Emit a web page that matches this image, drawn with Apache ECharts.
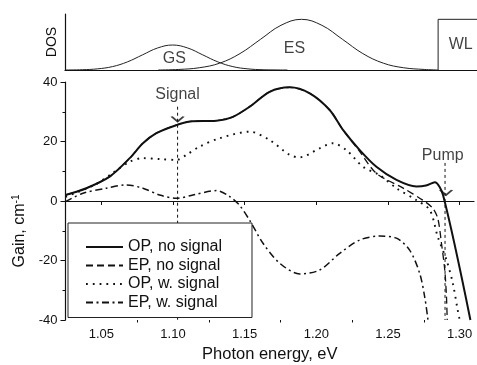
<!DOCTYPE html>
<html>
<head>
<meta charset="utf-8">
<script src="https://cdn.jsdelivr.net/npm/echarts@6/dist/echarts.min.js"></script>
<style>
  html, body { margin: 0; padding: 0; background: #fff; }
  #main { width: 477px; height: 365px; }
</style>
</head>
<body>
<div id="main"></div>
<script>
// DOS panel (arbitrary units, 0..1)
const gsDos = [[1.025, 0], [1.037, 0.005], [1.0475, 0.02], [1.058, 0.06], [1.0685, 0.145], [1.079, 0.27],
  [1.0895, 0.393], [1.100, 0.446], [1.1105, 0.393], [1.121, 0.27], [1.1315, 0.145], [1.142, 0.06],
  [1.1525, 0.02], [1.163, 0.005], [1.18, 0]];
const esDos = [[1.09, 0], [1.1043, 0.01], [1.1185, 0.04], [1.1328, 0.122], [1.147, 0.294], [1.1613, 0.549],
  [1.1755, 0.798], [1.1898, 0.905], [1.204, 0.798], [1.2183, 0.549], [1.2325, 0.294], [1.2468, 0.122],
  [1.261, 0.04], [1.2753, 0.01], [1.285, 0]];
const wlDos = [[1.285, 0], [1.285, 0.905], [1.3121, 0.905]];
const dosLabels = [['GS', 1.1012, 0.196], ['ES', 1.1849, 0.375], ['WL', 1.3007, 0.446]];

// gain spectra, cm^-1 vs photon energy, eV
const seriesNames = ['OP, no signal', 'EP, no signal', 'OP, w. signal', 'EP, w. signal'];
const opNoSignal = [[1.025, 2.0], [1.0395, 4.3], [1.0558, 8.2], [1.0698, 14.4], [1.079, 19.4], [1.0884, 22.8],
  [1.1023, 25.5], [1.1116, 26.7], [1.1303, 27.0], [1.1418, 28.3], [1.1535, 31.7], [1.1674, 36.7],
  [1.1814, 38.2], [1.1954, 36.2], [1.2093, 30.6], [1.2186, 23.9], [1.2303, 17.1], [1.2419, 11.5],
  [1.2559, 7.1], [1.2698, 4.9], [1.2765, 5.2], [1.2826, 6.3], [1.2884, 2.0], [1.3075, -40]];
const epNoSignal = [[1.025, 2.0], [1.0395, 4.3], [1.0558, 8.2], [1.0698, 14.4], [1.079, 19.4], [1.0884, 22.8],
  [1.1023, 25.5], [1.1116, 26.7], [1.1303, 27.0], [1.1418, 28.3], [1.1535, 31.7], [1.1674, 36.7],
  [1.1814, 38.2], [1.1954, 36.2], [1.2093, 30.6], [1.2186, 23.9], [1.2303, 16.6], [1.2419, 9.3],
  [1.2603, 4.4], [1.2742, 0.3], [1.2812, -2.4], [1.2848, -6.0], [1.2873, -14.2], [1.2896, -23.2],
  [1.2908, -32.2], [1.2913, -40]];
const opWithSignal = [[1.025, 1.4], [1.0453, 5.4], [1.0579, 9.4], [1.0698, 13.2], [1.0788, 14.4], [1.0907, 14.1],
  [1.1023, 13.8], [1.1093, 15.5], [1.1186, 18.3], [1.1326, 21.1], [1.1535, 23.3], [1.1674, 20.5],
  [1.1814, 15.5], [1.1884, 14.7], [1.2023, 17.7], [1.2116, 19.4], [1.221, 17.1], [1.2326, 11.5],
  [1.2442, 8.7], [1.2559, 4.3], [1.2698, 0.3], [1.2791, -3.0], [1.2847, -12.0], [1.2908, -19.8],
  [1.2952, -27.6], [1.2986, -36.6], [1.3, -40]];
const epWithSignal = [[1.025, -0.2], [1.0372, 2.6], [1.0535, 4.3], [1.0674, 5.4], [1.079, 4.3], [1.0907, 2.0],
  [1.1023, 0.9], [1.1139, 2.0], [1.1303, 3.5], [1.1395, 1.5], [1.1465, -1.5], [1.1535, -6.5],
  [1.1628, -14.2], [1.1744, -20.9], [1.1884, -24.5], [1.2023, -23.2], [1.2163, -17.6], [1.2303, -13.1],
  [1.2442, -11.8], [1.2559, -12.5], [1.2651, -16.5], [1.2721, -24.3], [1.2756, -32.2], [1.2779, -40]];

// markers
const signalLine = [[1.1032, 31.7], [1.1032, -40]];
const signalArrow = [1.1032, 26.7];
const pumpLine = [[1.2898, 12.8], [1.2898, -40]];
const pumpArrow = [1.2905, 2.0];
const markerLabels = [['Signal', 1.1032, 35.6], ['Pump', 1.2882, 15.1]];

// axes
const xTicks = [1.05, 1.10, 1.15, 1.20, 1.25, 1.30];
const xMinorTicks = [1.075, 1.125, 1.175, 1.225, 1.275];

const font = 'Liberation Sans, Arial, sans-serif';
const ink = '#111';

const chart = echarts.init(document.getElementById('main'));

const lineSeries = (name, data, lineStyle) => ({
  type: 'line',
  name: name,
  data: data,
  xAxisIndex: 0,
  yAxisIndex: 0,
  symbol: 'none',
  smooth: 0.3,
  lineStyle: Object.assign({color: ink}, lineStyle),
  itemStyle: {color: ink},
  z: 3
});

const option = {
  animation: false,
  backgroundColor: '#fff',
  textStyle: {fontFamily: font, color: ink},
  grid: [
    {left: 65.5, right: 3, top: 82, bottom: 45, outerBoundsMode: 'none'},
    {left: 65, right: 0, top: 14, bottom: 295, outerBoundsMode: 'none'}
  ],
  xAxis: [
    {
      type: 'value', gridIndex: 0, position: 'bottom',
      min: 1.025, max: 1.31,
      axisLine: {lineStyle: {color: ink, width: 1.2}},
      axisTick: {customValues: xTicks, length: 4, lineStyle: {color: ink}},
      axisLabel: {customValues: xTicks, formatter: v => v.toFixed(2), fontSize: 13, color: ink, margin: 8, fontFamily: font},
      splitLine: {show: false},
      name: 'Photon energy, eV', nameLocation: 'middle', nameGap: 26,
      nameTextStyle: {fontSize: 16.5, color: ink, fontFamily: font}
    },
    {
      type: 'value', gridIndex: 0, position: 'bottom',
      min: 1.025, max: 1.31,
      axisLine: {show: false},
      axisTick: {customValues: xMinorTicks, length: 2.5, lineStyle: {color: ink}},
      axisLabel: {show: false},
      splitLine: {show: false}
    },
    {
      type: 'value', gridIndex: 1, position: 'bottom',
      min: 1.025, max: 1.3121,
      axisLine: {lineStyle: {color: ink, width: 1.2}},
      axisTick: {show: false},
      axisLabel: {show: false},
      splitLine: {show: false}
    }
  ],
  yAxis: [
    {
      type: 'value', gridIndex: 0,
      min: -40, max: 40, interval: 20,
      axisLine: {show: true, lineStyle: {color: ink, width: 1.2}},
      axisTick: {length: 5, lineStyle: {color: ink}},
      minorTick: {show: true, splitNumber: 2, length: 3, lineStyle: {color: ink}},
      axisLabel: {fontSize: 13, color: ink, margin: 8, fontFamily: font},
      splitLine: {show: false},
      name: 'Gain, cm{sup|-1}', nameLocation: 'middle', nameGap: 24, nameRotate: 90,
      nameTextStyle: {
        fontSize: 16, color: ink, fontFamily: font, padding: [0, 60, 0, 0],
        rich: {sup: {fontSize: 10, verticalAlign: 'top', padding: [0, 0, 8, 0], color: ink, fontFamily: font}}
      }
    },
    {
      type: 'value', gridIndex: 1,
      min: 0, max: 1,
      axisLine: {show: true, lineStyle: {color: ink, width: 1.2}},
      axisTick: {show: false},
      axisLabel: {show: false},
      splitLine: {show: false},
      name: 'DOS', nameLocation: 'middle', nameGap: 6, nameRotate: 90,
      nameTextStyle: {fontSize: 14, color: ink, fontFamily: font}
    }
  ],
  legend: {
    data: seriesNames,
    orient: 'vertical',
    left: 68, top: 223,
    padding: [16, 30, 7, 17],
    itemGap: 2.5,
    itemWidth: 37,
    itemHeight: 14,
    itemStyle: {opacity: 0},
    borderColor: '#222',
    borderWidth: 1,
    backgroundColor: '#fff',
    textStyle: {fontSize: 16, color: ink, fontFamily: font}
  },
  series: [
    // DOS
    {type: 'line', data: gsDos, xAxisIndex: 2, yAxisIndex: 1, symbol: 'none', smooth: 0.4, lineStyle: {color: '#222', width: 1}},
    {type: 'line', data: esDos, xAxisIndex: 2, yAxisIndex: 1, symbol: 'none', smooth: 0.4, lineStyle: {color: '#222', width: 1}},
    {type: 'line', data: wlDos, xAxisIndex: 2, yAxisIndex: 1, symbol: 'none', lineStyle: {color: '#222', width: 1}},
    {
      type: 'scatter', xAxisIndex: 2, yAxisIndex: 1, symbolSize: 0, silent: true,
      data: dosLabels.map(d => ({name: d[0], value: [d[1], d[2]]})),
      label: {show: true, position: 'inside', formatter: '{b}', fontSize: 16, color: ink, fontFamily: font}
    },
    // gain
    lineSeries(seriesNames[0], opNoSignal, {width: 2, type: 'solid'}),
    lineSeries(seriesNames[1], epNoSignal, {width: 1.3, type: [7, 4]}),
    lineSeries(seriesNames[2], opWithSignal, {width: 1.9, type: [1.8, 5]}),
    lineSeries(seriesNames[3], epWithSignal, {width: 1.5, type: [7, 3.5, 2, 3.5]}),
    // markers
    {type: 'line', data: signalLine, xAxisIndex: 0, yAxisIndex: 0, symbol: 'none', lineStyle: {color: ink, width: 1, type: [3, 3]}},
    {type: 'line', data: pumpLine, xAxisIndex: 0, yAxisIndex: 0, symbol: 'none', lineStyle: {color: ink, width: 1, type: [3, 3]}},
    {
      type: 'scatter', xAxisIndex: 0, yAxisIndex: 0, silent: true,
      data: [signalArrow, pumpArrow],
      symbol: 'path://M0,0 L6,5 L12,0',
      symbolSize: [12, 5],
      symbolOffset: [0, -2.5],
      itemStyle: {color: 'transparent', borderColor: ink, borderWidth: 1.6},
      z: 4
    },
    {
      type: 'scatter', xAxisIndex: 0, yAxisIndex: 0, symbolSize: 0, silent: true,
      data: markerLabels.map(d => ({name: d[0], value: [d[1], d[2]]})),
      label: {show: true, position: 'inside', formatter: '{b}', fontSize: 16, color: ink, fontFamily: font}
    }
  ]
};

chart.setOption(option);
</script>
</body>
</html>
